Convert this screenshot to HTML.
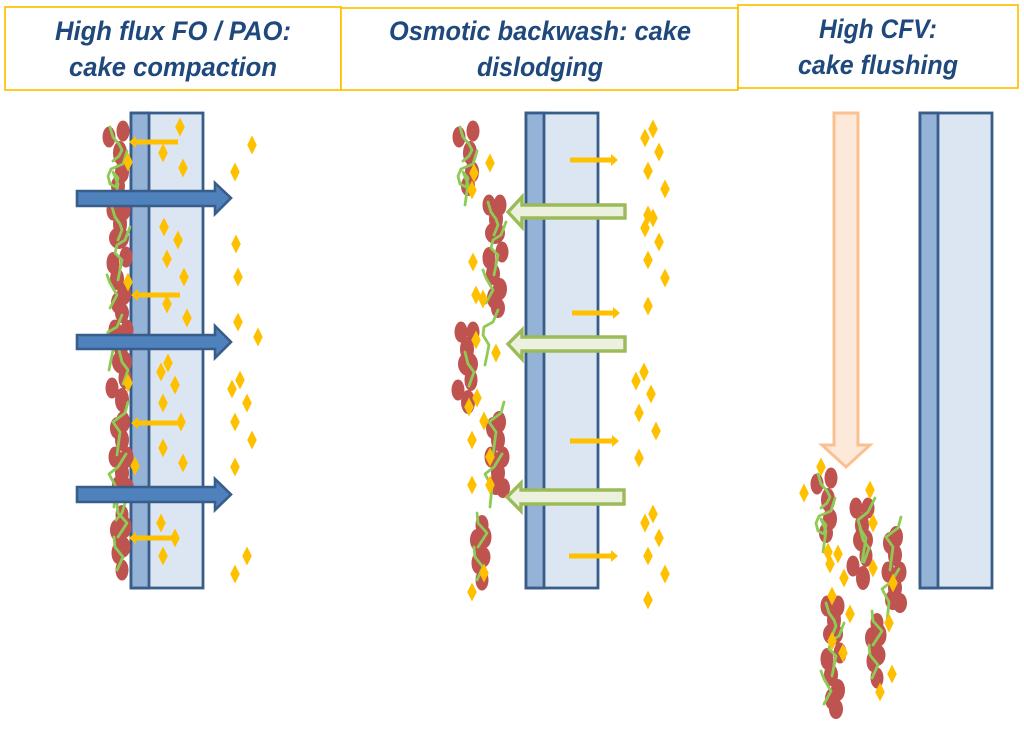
<!DOCTYPE html>
<html><head><meta charset="utf-8"><style>
html,body{margin:0;padding:0;background:#fff;width:1024px;height:731px;overflow:hidden}
svg{display:block}
text{font-family:"Liberation Sans",sans-serif;font-weight:bold;font-style:italic;font-size:27px;fill:#1f497d}
.c ellipse{fill:#bf5350}
.w polyline,polyline.w{fill:none;stroke:#8ecb55;stroke-width:2.8;stroke-linejoin:round;stroke-linecap:round}
.y{fill:#ffc000}
.b{fill:#4f81bd;stroke:#385d8a;stroke-width:2.6}
.g{fill:#ebf1de;stroke:#9bbb59;stroke-width:3.4}
</style></head><body>
<svg width="1024" height="731" viewBox="0 0 1024 731" xmlns="http://www.w3.org/2000/svg">
<defs>
<path id="d" class="y" d="M0-9.500 4.800 0 0 9.500-4.800 0z"/>
<g id="A">
<g class="c"><ellipse cx="109" cy="137" rx="6.500" ry="10.500"/><ellipse cx="123" cy="131" rx="6.500" ry="10.500"/><ellipse cx="120" cy="153" rx="7" ry="12"/><ellipse cx="122" cy="172" rx="7" ry="11"/><ellipse cx="118" cy="186" rx="7" ry="10"/></g>
<g class="w"><polyline points="110,127 113,137 119,144 122,150 119,156 113,161"/><polyline points="127,151 123,164 111,169 108,176 110,184 116,187 118,178 113,172 118,184 115,205"/></g>
</g>
<g id="B">
<g class="c"><ellipse cx="113" cy="210" rx="6.500" ry="10.500"/><ellipse cx="124" cy="210" rx="6.500" ry="10.500"/><ellipse cx="120" cy="224" rx="7" ry="12"/><ellipse cx="119" cy="238" rx="10" ry="11"/><ellipse cx="126" cy="257" rx="6.500" ry="10.500"/><ellipse cx="113" cy="263" rx="6.500" ry="11"/><ellipse cx="117" cy="279" rx="7" ry="11"/><ellipse cx="124" cy="294" rx="7" ry="11"/><ellipse cx="118" cy="303" rx="7" ry="11"/><ellipse cx="122" cy="313" rx="7" ry="10"/></g>
<g class="w"><polyline points="112,207 115,217 120,224 122,230 118,240"/><polyline points="130,227 125,240 117,245 115,253 122,260 118,280"/><polyline points="107,275 110,283 117,295 110,308"/></g>
</g>
<polyline id="Bt" class="w" points="122,315 117,327 108,332 107,340 113,350 109,370"/>
<g id="C">
<g class="c"><ellipse cx="115" cy="330" rx="6.500" ry="10.500"/><ellipse cx="127" cy="330" rx="6.500" ry="10.500"/><ellipse cx="121" cy="347" rx="7" ry="12"/><ellipse cx="122" cy="362" rx="10" ry="12"/><ellipse cx="112" cy="388" rx="6.500" ry="10.500"/><ellipse cx="125" cy="378" rx="6.500" ry="11"/><ellipse cx="122" cy="400" rx="7" ry="12"/></g>
<g class="w"><polyline points="119,350 122,362 128,370 123,384"/></g>
</g>
<g id="E">
<g class="c"><ellipse cx="123" cy="422" rx="7" ry="11"/><ellipse cx="117" cy="428" rx="7" ry="11"/><ellipse cx="122" cy="440" rx="7" ry="11"/><ellipse cx="115" cy="457" rx="6.500" ry="10.500"/><ellipse cx="127" cy="457" rx="6.500" ry="10.500"/><ellipse cx="122" cy="473" rx="7" ry="11"/><ellipse cx="120" cy="485" rx="8" ry="10"/><ellipse cx="127" cy="488" rx="7" ry="10"/></g>
<g class="w"><polyline points="128,402 125,413 113,422 120,432 117,455"/><polyline points="126,454 118,467 109,474 116,487 114,507"/></g>
</g>
<g id="F">
<g class="c"><ellipse cx="122" cy="515" rx="6.500" ry="10"/><ellipse cx="117" cy="530" rx="7" ry="11"/><ellipse cx="125" cy="527" rx="6.500" ry="11"/><ellipse cx="122" cy="547" rx="8.500" ry="11"/><ellipse cx="118" cy="553" rx="6.500" ry="11"/><ellipse cx="122" cy="570" rx="6.500" ry="10.500"/></g>
<g class="w"><polyline points="117,503 118,513 127,523 118,537"/><polyline points="114,537 115,547 123,557 117,570"/></g>
</g>
</defs>

<g fill="#fff" stroke="#ffc000" stroke-width="1.7">
<rect x="5" y="7" width="336" height="83"/>
<rect x="341" y="8" width="397" height="82"/>
<rect x="738" y="5" width="280" height="83"/>
</g>
<text x="55" y="40" textLength="236" lengthAdjust="spacingAndGlyphs">High flux FO / PAO:</text>
<text x="69" y="76" textLength="208" lengthAdjust="spacingAndGlyphs">cake compaction</text>
<text x="389" y="40" textLength="302" lengthAdjust="spacingAndGlyphs">Osmotic backwash: cake</text>
<text x="477" y="76" textLength="126" lengthAdjust="spacingAndGlyphs">dislodging</text>
<text x="819" y="38" textLength="118" lengthAdjust="spacingAndGlyphs">High CFV:</text>
<text x="798" y="74" textLength="160" lengthAdjust="spacingAndGlyphs">cake flushing</text>

<g stroke="#385d8a" stroke-width="2.8">
<rect x="131" y="113" width="72" height="475" fill="#dce6f2"/><rect x="131" y="113" width="18" height="475" fill="#95b3d7"/>
<rect x="526" y="113" width="72" height="475" fill="#dce6f2"/><rect x="526" y="113" width="18" height="475" fill="#95b3d7"/>
<rect x="920" y="113" width="72" height="475" fill="#dce6f2"/><rect x="920" y="113" width="18" height="475" fill="#95b3d7"/>
</g>

<use href="#A"/><use href="#B"/><use href="#C"/><use href="#E"/><use href="#F" x="0" y="0"/>
<polyline class="w" points="125,503 122,513 116,520"/>
<use href="#Bt"/>
<use href="#A" x="350"/><use href="#B" x="376" y="-5"/><use href="#Bt" x="376" y="-5"/><use href="#C" x="346" y="2"/><use href="#E" x="376"/><use href="#F" x="360" y="10"/>
<use href="#A" x="708" y="347"/><use href="#C" x="741" y="178"/><use href="#E" x="773" y="115"/><use href="#B" x="714" y="396"/><use href="#F" x="755" y="108"/>
<polyline class="w" points="875,498 868,512 858,520 861,530 866,538 862,562"/>

<g>
<use href="#d" x="180" y="127"/><use href="#d" x="128" y="162"/><use href="#d" x="163" y="153"/><use href="#d" x="183" y="168"/><use href="#d" x="252" y="145"/><use href="#d" x="235" y="172"/><use href="#d" x="164" y="227"/><use href="#d" x="178" y="240"/><use href="#d" x="167" y="259"/><use href="#d" x="184" y="277"/><use href="#d" x="128" y="282"/><use href="#d" x="167" y="304"/><use href="#d" x="187" y="318"/><use href="#d" x="236" y="244"/><use href="#d" x="238" y="277"/><use href="#d" x="238" y="322"/><use href="#d" x="258" y="337"/>
<use href="#d" x="168" y="363"/><use href="#d" x="161" y="372"/><use href="#d" x="175" y="385"/><use href="#d" x="128" y="383"/><use href="#d" x="163" y="403"/><use href="#d" x="181" y="422"/><use href="#d" x="163" y="448"/><use href="#d" x="183" y="463"/><use href="#d" x="135" y="466"/><use href="#d" x="161" y="523"/><use href="#d" x="175" y="538"/><use href="#d" x="163" y="556"/><use href="#d" x="240" y="380"/><use href="#d" x="232" y="389"/><use href="#d" x="247" y="403"/><use href="#d" x="235" y="422"/><use href="#d" x="252" y="440"/><use href="#d" x="235" y="467"/><use href="#d" x="247" y="556"/><use href="#d" x="235" y="574"/>

<use href="#d" x="490" y="163"/><use href="#d" x="474" y="173"/><use href="#d" x="472" y="190"/><use href="#d" x="473" y="262"/><use href="#d" x="476" y="295"/><use href="#d" x="483" y="299"/><use href="#d" x="476" y="340"/><use href="#d" x="496" y="353"/><use href="#d" x="653" y="129"/><use href="#d" x="645" y="138"/><use href="#d" x="659" y="152"/><use href="#d" x="648" y="171"/><use href="#d" x="665" y="189"/><use href="#d" x="648" y="215"/><use href="#d" x="653" y="218"/><use href="#d" x="645" y="228"/><use href="#d" x="659" y="242"/><use href="#d" x="648" y="260"/><use href="#d" x="665" y="278"/><use href="#d" x="648" y="306"/>
<use href="#d" x="477" y="398"/><use href="#d" x="469" y="407"/><use href="#d" x="484" y="421"/><use href="#d" x="472" y="440"/><use href="#d" x="490" y="457"/><use href="#d" x="472" y="485"/><use href="#d" x="490" y="485"/><use href="#d" x="484" y="573"/><use href="#d" x="472" y="592"/><use href="#d" x="644" y="372"/><use href="#d" x="636" y="381"/><use href="#d" x="651" y="394"/><use href="#d" x="639" y="413"/><use href="#d" x="656" y="431"/><use href="#d" x="639" y="458"/><use href="#d" x="653" y="514"/><use href="#d" x="645" y="523"/><use href="#d" x="659" y="538"/><use href="#d" x="648" y="556"/><use href="#d" x="665" y="574"/><use href="#d" x="648" y="600"/>

<use href="#d" x="821" y="467"/><use href="#d" x="804" y="493"/><use href="#d" x="870" y="490"/><use href="#d" x="873" y="523"/><use href="#d" x="828" y="552"/><use href="#d" x="838" y="554"/><use href="#d" x="830" y="564"/><use href="#d" x="873" y="568"/><use href="#d" x="844" y="578"/><use href="#d" x="893" y="583"/><use href="#d" x="832" y="596"/><use href="#d" x="889" y="623"/><use href="#d" x="850" y="614"/><use href="#d" x="832" y="641"/><use href="#d" x="843" y="653"/><use href="#d" x="892" y="674"/><use href="#d" x="880" y="692"/>
</g>

<g class="y">
<path d="M129 142 136 136V139.500H178V144.500H136V148z"/>
<path d="M131 295 138 289V292.500H180V297.500H138V301z"/>
<path d="M131 423 138 417V420.500H179V425.500H138V429z"/>
<path d="M129 538 136 532V535.500H174V540.500H136V544z"/>
<path d="M618 160 611 154V157.500H570V162.500H611V166z"/>
<path d="M620 313 613 307V310.500H572V315.500H613V319z"/>
<path d="M619 441 612 435V438.500H570V443.500H612V447z"/>
<path d="M618 556 611 550V553.500H569V558.500H611V562z"/>
</g>

<g class="b">
<path d="M77 191H215V183L231 198 215 214V206H77z"/>
<path d="M77 335H215V326L231 342 215 358V349H77z"/>
<path d="M77 487H215V479L231 494.500 215 510V502H77z"/>
</g>
<g class="g">
<path d="M625 205H522V197L508 212 522 227V218H625z"/>
<path d="M625 337H522V330L508 344 522 359V351H625z"/>
<path d="M624 490H521V483L507 497 521 511V504H624z"/>
</g>
<path d="M834 113H858V445H870L846 467 822 445H834z" fill="#fde9d9" stroke="#fac090" stroke-width="3"/>
</svg>
</body></html>
